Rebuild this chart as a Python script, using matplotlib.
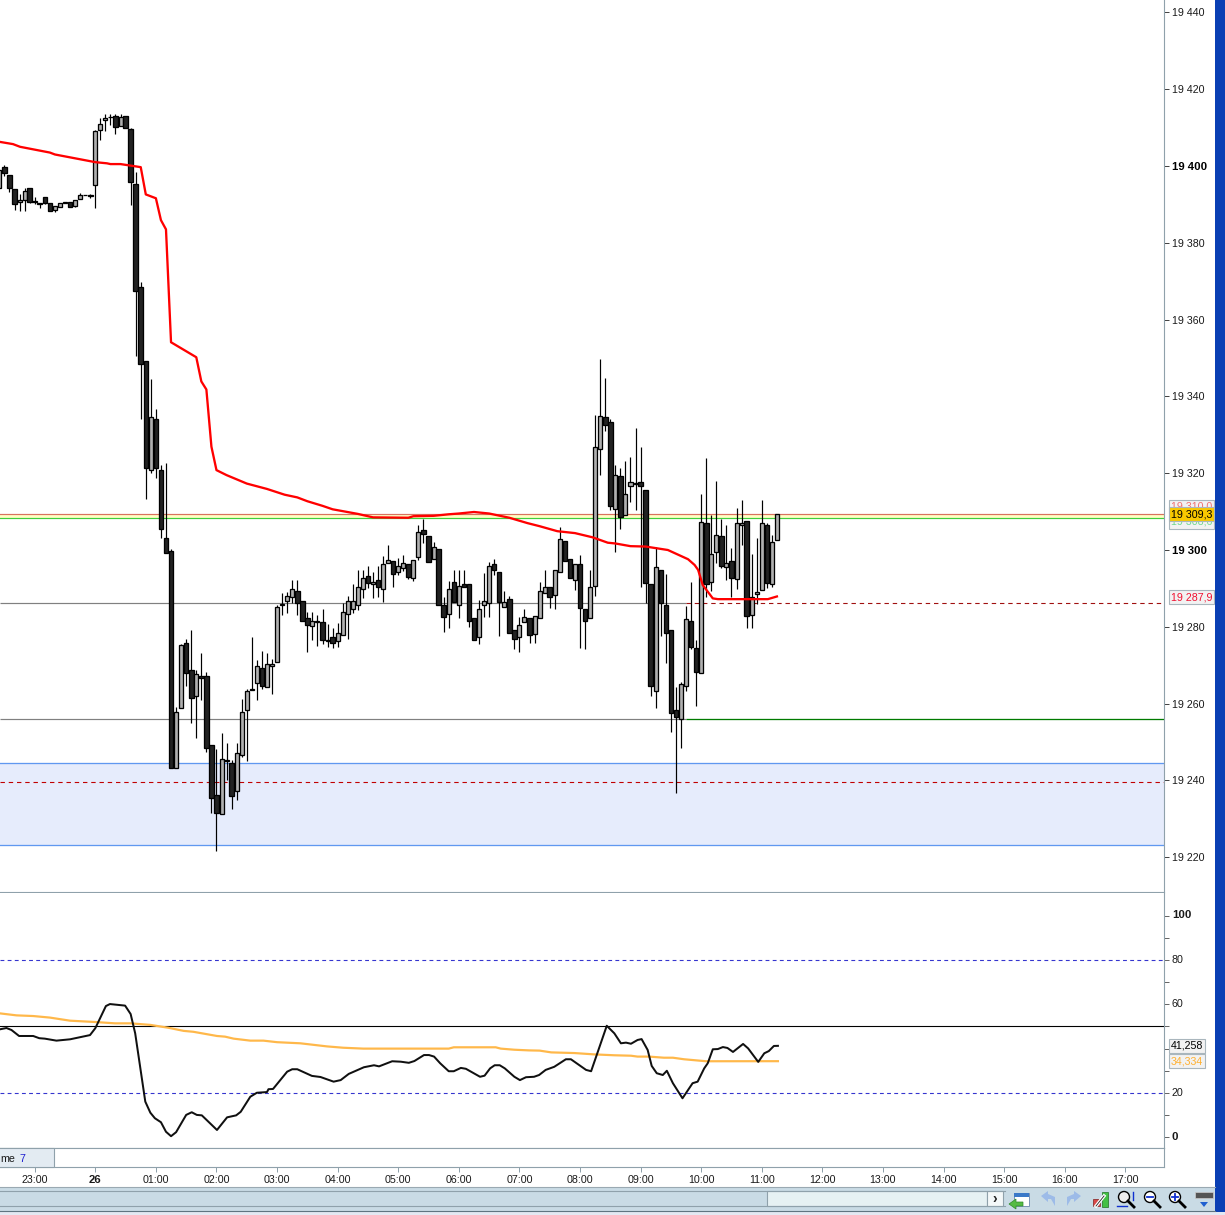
import matplotlib
matplotlib.use("Agg")
import matplotlib.pyplot as plt
from matplotlib.patches import Rectangle, Circle, Polygon
from matplotlib.ticker import FixedLocator, FixedFormatter, NullLocator
from matplotlib.transforms import ScaledTranslation

plt.rcParams['font.family'] = ['Liberation Sans', 'DejaVu Sans']

BASE = 19300  # all price lists below are offsets from this level
first_bar = -19  # 5-minute bars, 0 = 00:00 on the 26th

opens = [94.3,99.7,97.6,93.9,90.5,91.1,94.2,90.9,90.3,91.8,90.3,88.6,89.4,90.5,90.5,89.7,91.3,92.5,92.4,
 95.0,109.5,111.9,112.8,112.9,110.5,112.9,109.6,95.3,68.5,
 49.2,20.8,34.0,20.8,3.0,-0.3,-56.8,-41.2,-24.3,-31.3,
 -37.9,-32.8,-32.8,-50.9,-63.9,-68.8,-54.8,-55.5,-62.8,-53.3,
 -41.7,-36.2,-34.7,-30.8,-35.8,-30.3,-29.2,-14.4,-13.4,-12.3,
 -10.8,-13.4,-17.8,-19.9,-18.8,-18.8,-23.8,-22.7,-23.8,-22.1,
 -16.7,-15.4,-14.4,-10.2,-6.8,-8.9,-7.9,-10.2,-3.5,-2.9,
 -5.8,-4.8,-3.7,-7.4,-1.9,5.1,3.6,-2.4,0.2,-14.4,
 -16.7,-8.4,-14.4,-8.9,-8.9,-17.8,-22.7,-14.4,-13.9,-3.7,
 -5.8,-14.9,-12.8,-20.9,-22.7,-18.8,-17.8,-22.0,-17.8,-11.3,
 -9.7,-11.8,-5.8,2.3,-2.4,-7.9,-3.7,-15.4,-17.8,-9.4,
 26.3,34.6,33.3,10.6,19.2,9.0,16.6,17.1,17.6,15.6,
 -8.9,-36.8,-5.2,-14.3,-20.8,-41.7,-44.1,-35.5,-18.6,-25.6,
 -32.1,7.0,-8.4,-0.6,3.6,-4.5,-2.9,-7.6,6.4,7.5,
 -17.0,-11.5,-10.5,6.4,-8.9,2.5]
closes = [99.0,98.2,94.3,90.2,91.1,93.4,90.7,90.5,90.0,90.4,88.4,89.5,90.3,90.3,89.4,91.1,92.4,92.4,92.2,
 109.0,111.0,112.4,112.7,110.2,112.7,110.0,95.9,67.5,48.5,
 21.4,34.7,21.4,5.5,-0.7,-56.9,-42.3,-24.8,-32.0,-38.5,
 -32.4,-33.4,-51.5,-64.5,-68.4,-54.3,-54.9,-64.0,-52.9,-42.3,
 -36.8,-36.4,-30.3,-35.3,-29.8,-29.8,-14.9,-14.0,-11.9,-10.2,
 -13.7,-18.4,-19.5,-18.4,-18.4,-23.4,-23.4,-24.3,-21.5,-16.2,
 -13.4,-13.4,-9.7,-7.4,-8.5,-8.4,-9.7,-3.7,-2.5,-6.3,
 -4.2,-3.5,-7.0,-2.5,4.6,4.1,-3.0,0.7,-14.4,-17.4,
 -10.2,-13.5,-9.5,-9.6,-18.4,-23.4,-15.4,-13.4,-4.2,-5.3,
 -13.5,-13.5,-21.5,-23.3,-19.5,-17.4,-22.2,-17.3,-10.8,-9.6,
 -12.3,-5.3,2.8,-2.9,-7.4,-3.7,-15.0,-18.4,-9.6,26.7,
 35.0,32.6,11.5,19.6,8.7,14.7,17.6,17.5,16.6,-8.5,
 -35.3,-4.3,-13.9,-21.5,-42.4,-43.4,-35.0,-18.0,-25.2,-31.7,
 7.4,-8.9,-1.1,3.8,-4.1,-3.5,-7.2,7.0,7.0,-17.1,
 -12.2,-11.0,7.0,-8.5,2.0,9.3]
highs = [99.0,100.3,97.6,93.9,92.7,94.2,94.2,91.8,90.3,91.8,90.3,89.5,90.3,90.5,90.5,91.1,92.9,92.5,92.8,
 109.4,112.4,113.5,113.5,113.5,113.5,112.9,109.9,98.4,69.8,
 49.2,44.5,36.7,22.1,22.6,0.3,-40.8,-24.5,-23.3,-20.8,
 -31.2,-26.9,-31.8,-50.9,-51.8,-47.7,-50.3,-54.7,-50.3,-38.8,
 -36.2,-22.7,-28.6,-26.3,-26.9,-28.5,-14.3,-11.3,-10.9,-7.8,
 -7.8,-13.4,-16.1,-16.1,-16.9,-15.4,-19.3,-20.4,-19.0,-13.8,
 -12.0,-8.9,-5.2,-5.2,-4.1,-5.7,-4.1,-1.6,1.3,-2.9,
 -2.1,-1.3,-3.7,-2.5,6.5,8.1,3.6,2.2,0.2,-12.2,
 -8.0,-5.2,-5.2,-5.2,-8.9,-17.8,-13.0,-6.1,-3.0,-2.4,
 -5.8,-10.7,-12.0,-20.9,-17.4,-15.4,-17.8,-17.3,-8.4,-5.2,
 -9.7,-5.3,6.1,2.3,-2.4,-3.7,-1.3,-15.4,-5.2,35.2,
 49.7,44.7,34.0,22.1,21.3,23.2,24.1,31.7,26.7,15.6,
 -8.9,0.7,-5.2,-6.2,-20.8,-35.8,-34.5,-14.6,-8.3,-23.4,
 14.6,23.9,9.1,18.0,8.1,6.5,0.4,10.9,13.0,7.5,
 -1.0,3.0,13.0,7.0,3.9,9.3]
lows = [94.3,97.4,93.3,88.5,88.4,88.4,90.4,90.1,89.1,90.1,88.4,88.1,89.4,90.3,89.4,89.4,91.3,92.4,91.7,
 89.1,106.8,109.2,110.7,108.3,110.5,110.0,89.8,50.5,34.1,
 13.4,20.1,18.8,3.1,-0.7,-56.9,-56.8,-41.2,-35.3,-45.0,
 -48.9,-39.0,-52.5,-68.4,-78.3,-68.8,-59.9,-67.4,-65.1,-54.0,
 -54.9,-36.4,-39.0,-36.3,-35.8,-37.5,-29.2,-16.9,-16.5,-13.9,
 -16.9,-18.4,-26.5,-23.4,-25.0,-24.5,-25.2,-25.6,-25.3,-22.1,
 -23.3,-16.4,-15.6,-12.6,-10.0,-12.4,-12.2,-13.5,-3.5,-9.6,
 -6.5,-5.5,-7.6,-8.1,-2.6,1.7,-3.0,-2.4,-14.4,-21.4,
 -20.4,-13.5,-17.8,-9.6,-20.0,-23.4,-24.5,-17.4,-17.4,-6.5,
 -22.3,-14.9,-21.5,-25.8,-26.5,-18.8,-24.1,-24.3,-17.8,-11.3,
 -15.2,-15.4,-5.8,-2.9,-7.4,-10.4,-25.4,-25.9,-17.8,-11.9,
 19.5,31.1,10.4,-0.4,5.5,9.0,12.6,10.4,-9.6,-13.9,
 -37.9,-41.1,-22.3,-29.3,-47.3,-63.4,-51.6,-36.6,-25.7,-40.5,
 -32.1,-12.2,-10.6,-3.5,-4.6,-7.8,-12.2,-10.2,1.3,-20.2,
 -20.2,-14.1,-10.5,-10.0,-9.6,2.5]

vwap_bars = [-19,-16.3,-14.9,-9,-8,0,2.3,3,5,9,10,12,13,14,15,20,21,22,23,24,26,28,30,34,37.5,40,42,45,47,52,55,
 62,63,67,70,72,75,78,82,85.6,88,91.5,95,98.5,101.5,103,106,109,113.4,117.4,118.7,119.4,120.3,122.3,123.3,133.2,135]
vwap_vals = [106.3,105.7,105.0,103.5,103.0,101.0,100.7,100.5,100.5,99.7,92.6,91.6,85.9,83.5,54.1,50.2,43.9,41.8,26.9,20.8,19.5,18.4,17.3,15.9,14.4,13.7,12.7,11.5,10.6,9.4,8.5,
 8.4,8.8,8.9,9.3,9.5,9.9,9.5,8.4,7.0,6.2,4.9,4.4,3.3,1.9,1.7,1.0,0.9,0.0,-2.4,-3.9,-5.2,-9.1,-12.6,-12.8,-12.8,-12.1]

osc_bars = [-18.9,-17.6,-16.6,-15.1,-12.3,-11.1,-10,-7.7,-5,-1.05,0,2.1,2.9,5.9,7,7.9,9.9,10.9,11.8,13,14,15,16,18,19.1,20.1,21.1,24.1,26.1,27.9,28.8,30.7,32,34,34.3,35.2,38,39,40,42.9,44.6,47.2,48.6,50.2,53.2,55.2,56.2,58.8,60.5,
 62.1,63.2,65.1,66.1,67.1,68.3,70,71,72.4,73.4,76.2,77.1,78.2,79.1,80.1,81.1,83,84.1,85.3,86.9,87.9,89.2,90.9,93.2,94.2,97.2,98.2,99.2,101.3,102.8,104.1,105.1,106.1,107.4,108.2,109.4,110.2,111.2,112.4,113.2,114.4,116.3,118.3,119.3,120.6,121.3,122.3,123.3,124.3,125.2,126.3,128.3,129.3,131.3,132.5,133.4,134.4,135.2]
osc_vals = [48.7,49.3,48.4,45.7,45.7,44.7,44.5,43.6,44.2,46.1,49.2,59.2,60.1,59.4,55.6,46.9,16.1,11.1,8.6,6.8,2.5,0.5,2.3,10.1,11.3,10.1,9.9,3.3,9.0,9.9,11.5,18.3,20.1,20.4,21.7,21.8,29.6,30.7,30.7,27.7,27.2,25.1,25.8,28.6,31.6,32.5,32.0,34.3,34.1,
 33.6,34.4,37.1,37.1,36.4,33.4,29.8,29.8,31.3,30.9,27.3,27.8,31.1,32.5,32.5,31.1,27.3,25.8,27.1,27.3,28.1,30.4,31.8,35.2,35.2,30.4,29.8,36.4,50.3,46.9,42.4,42.7,42.2,43.9,44.3,39.4,32.2,28.9,28.1,30.0,24.4,17.6,24.4,25.1,31.1,33.4,39.7,39.8,40.7,40.3,38.5,42.1,40.1,34.0,37.9,38.9,41.2,41.258]
ma_bars = [-18.9,-15.6,-12.3,-9,-5,0,3.9,7,10.9,14.5,17.5,19.4,24.1,25.7,27.4,30.7,33.3,36,40.6,45.9,49.1,53.1,60.5,70,71,79.3,80.3,83,85.9,88,90.3,94.9,98.8,102.8,106.1,107.4,109.7,112.6,114.4,116.6,121,135.2]
ma_vals = [55.9,55.0,54.7,54.0,52.6,52.0,51.4,51.4,50.7,49.4,48.0,47.6,45.7,45.4,44.5,43.6,43.6,42.9,42.4,41.0,40.4,40.0,40.0,40.0,40.6,40.6,40.0,39.5,39.2,39.1,38.3,38.0,37.4,37.0,36.8,36.4,36.4,35.9,35.9,35.2,34.3,34.334]

level_red_top = 9.5
level_green = 8.3
level_mid = -13.9
level_low = -43.9
zone_top = -55.4
zone_bottom = -76.9
level_dash = -60.5
level_switch_bar = 117

price_ticks = list(range(19220, 19441, 20))
bold_prices = {19400, 19300}
osc_ticks = list(range(0, 101, 10))
osc_labels = {0: '0', 20: '20', 60: '60', 80: '80', 100: '100'}
hour_bars = list(range(-12, 205, 12))
hour_labels = ['23:00', '26', '01:00', '02:00', '03:00', '04:00', '05:00', '06:00', '07:00', '08:00', '09:00',
               '10:00', '11:00', '12:00', '13:00', '14:00', '15:00', '16:00', '17:00']

W, H = 1225, 1215
PX = 72 / 100
EDGE = '#8fa1ab'
TXT = '#1a1a1a'

fig = plt.figure(figsize=(W / 100, H / 100), dpi=100, facecolor='white')

def axes_px(x0, y0, x1, y1, **kw):
    return fig.add_axes([x0 / W, 1 - y1 / H, (x1 - x0) / W, (y1 - y0) / H], **kw)

XLIM = ((0 - 95.3) / 5.049, (1164 - 95.3) / 5.049)

# ---------- price pane
ax = axes_px(0, 0, 1164, 892)
ax.set_xlim(*XLIM)
ax.set_ylim(BASE - 342 / 3.84, BASE + 550 / 3.84)
for s in ('left', 'top'):
    ax.spines[s].set_visible(False)
ax.spines['right'].set_color(EDGE)
ax.spines['bottom'].set_color(EDGE)
ax.xaxis.set_major_locator(NullLocator())
ax.yaxis.tick_right()
ax.set_yticks(price_ticks)
ax.set_yticklabels([f"{p // 1000} {p % 1000:03d}" for p in price_ticks])
ax.tick_params(axis='y', length=5 * PX, width=1 * PX, pad=3 * PX, color='#444444', labelsize=7.7, labelcolor=TXT)
for lab, p in zip(ax.get_yticklabels(), price_ticks):
    if p in bold_prices:
        lab.set_fontweight('bold')
        lab.set_fontsize(8.2)
        lab.set_color('black')

ax.axhspan(BASE + zone_bottom, BASE + zone_top, facecolor='#e6ecfc', edgecolor='none', zorder=1)
ax.axhline(BASE + zone_top, color='#6098f0', lw=1 * PX * 1.3, zorder=1.5)
ax.axhline(BASE + zone_bottom, color='#6098f0', lw=1 * PX * 1.3, zorder=1.5)
ax.axhline(BASE + level_dash, color='#c00000', lw=1.1 * PX, ls=(0, (4, 3.5)), zorder=1.5)
ax.axhspan(BASE + level_green, BASE + level_red_top, facecolor='#ffffc4', edgecolor='none', zorder=1)
ax.axhline(BASE + level_red_top, color='#d8725f', lw=1.2 * PX, zorder=1.5)
ax.axhline(BASE + level_green, color='#3fce3f', lw=1.2 * PX, zorder=1.5)
ax.hlines(BASE + level_mid, XLIM[0], level_switch_bar, color='#808080', lw=1.2 * PX, zorder=1.5)
ax.hlines(BASE + level_mid, level_switch_bar, XLIM[1], color='#a01010', lw=1.1 * PX, ls=(0, (4, 3.5)), zorder=1.5)
ax.hlines(BASE + level_low, XLIM[0], level_switch_bar, color='#808080', lw=1.2 * PX, zorder=1.5)
ax.hlines(BASE + level_low, level_switch_bar, XLIM[1], color='#007a00', lw=1.3 * PX, zorder=1.5)

bars = list(range(first_bar, first_bar + len(opens)))
ax.vlines(bars, [BASE + v for v in lows], [BASE + v for v in highs], color='black', lw=1.2 * PX, zorder=3)
for b, o, c in zip(bars, opens, closes):
    up = c >= o
    lo, hi = min(o, c), max(o, c)
    ax.bar(b, hi - lo, bottom=BASE + lo, width=0.8 if up else 0.9,
           facecolor='#b0b0b0' if up else '#222222', edgecolor='black', linewidth=1.3 * PX, zorder=4)

ax.plot(vwap_bars, [BASE + v for v in vwap_vals], color='#ff0000', lw=2.3 * PX, zorder=5, solid_joinstyle='round')

def price_box(y, txt, col, fc='#f2f2f2', z=10):
    ax.text(1171 / 1164, y, txt, transform=ax.get_yaxis_transform(), color=col, fontsize=7.7, va='center', ha='left',
            zorder=z, clip_on=False,
            bbox=dict(boxstyle='square,pad=0.18', facecolor=fc, edgecolor='#a9b6bd', linewidth=1.1 * PX))

price_box(BASE + 10.0 + 1.2, '19 310,0', '#f07070')
price_box(BASE + 8.6 - 1.2, '19 308,6', '#70d890')
price_box(BASE + closes[-1], '19 309,3', 'black', fc='#f9c800', z=11)
price_box(BASE + vwap_vals[-1] - 0.2, '19 287,9', '#f01030')

# ---------- oscillator pane
ax2 = axes_px(0, 893, 1164, 1148)
ax2.set_xlim(*XLIM)
ax2.set_ylim((1137.3 - 1148) / 2.217, (1137.3 - 893) / 2.217)
for s in ('left', 'top'):
    ax2.spines[s].set_visible(False)
ax2.spines['right'].set_color(EDGE)
ax2.spines['bottom'].set_color(EDGE)
ax2.xaxis.set_major_locator(NullLocator())
ax2.yaxis.tick_right()
ax2.yaxis.set_major_locator(FixedLocator(osc_ticks))
ax2.yaxis.set_major_formatter(FixedFormatter([osc_labels.get(t, '') for t in osc_ticks]))
ax2.tick_params(axis='y', length=5 * PX, width=1 * PX, pad=3 * PX, color='#666666', labelsize=7.7, labelcolor=TXT)
lift = ScaledTranslation(0, 1.2 / 100, fig.dpi_scale_trans)
for lab, t in zip(ax2.get_yticklabels(), osc_ticks):
    lab.set_transform(lab.get_transform() + lift)
    if t in (0, 100):
        lab.set_fontweight('bold')
        lab.set_fontsize(8.2)
ax2.axhline(80, color='#3535cf', lw=1.1 * PX, ls=(0, (3.5, 3)), zorder=1)
ax2.axhline(20, color='#3535cf', lw=1.1 * PX, ls=(0, (3.5, 3)), zorder=1)
ax2.axhline(50, color='black', lw=1.1 * PX, zorder=1)
ax2.plot(ma_bars, ma_vals, color='#ffb84a', lw=2.2 * PX, zorder=2)
ax2.plot(osc_bars, osc_vals, color='#101010', lw=2.0 * PX, zorder=3)

def osc_box(y, txt, col):
    ax2.text(1171 / 1164, y, txt, transform=ax2.get_yaxis_transform(), color=col, fontsize=7.7, va='center', ha='left',
             zorder=10, clip_on=False,
             bbox=dict(boxstyle='square,pad=0.18', facecolor='#f2f2f2', edgecolor='#a9b6bd', linewidth=1.1 * PX))

osc_box(osc_vals[-1], '41,258', 'black')
osc_box(ma_vals[-1], '34,334', '#ffb030')

# ---------- time axis strip
ax3 = axes_px(0, 1148, 1164, 1167)
ax3.set_xlim(*XLIM)
ax3.set_ylim(0, 1)
ax3.spines['left'].set_visible(False)
ax3.spines['top'].set_color(EDGE)
ax3.spines['right'].set_color(EDGE)
ax3.spines['bottom'].set_color(EDGE)
ax3.yaxis.set_major_locator(NullLocator())
ax3.set_xticks(hour_bars)
ax3.set_xticklabels(hour_labels)
ax3.tick_params(axis='x', length=5 * PX, width=1 * PX, pad=3 * PX, color=EDGE, labelsize=7.7, labelcolor=TXT)
for lab, t in zip(ax3.get_xticklabels(), hour_labels):
    if t == '26':
        lab.set_fontweight('bold')
        lab.set_fontsize(8.2)

# ---------- window chrome (layout only)
ch = fig.add_axes([0, 0, 1, 1], facecolor='none', zorder=20)
ch.set_xlim(0, W)
ch.set_ylim(H, 0)
ch.axis('off')
ch.add_patch(Rectangle((-2, 1148), 56, 19, fc='#e3ebf2', ec=EDGE, lw=0.8))
ch.text(0, 1158.5, 'me', fontsize=7.7, color=TXT, va='center', ha='left')
ch.text(19, 1158.5, '7', fontsize=7.7, color='#2020d0', va='center', ha='left')
ch.add_patch(Rectangle((1215, 0), 10, 1215, fc='#0a3fb4', ec='none'))
ch.add_patch(Rectangle((0, 1186.5), 1215, 25, fc='#c9dbe5', ec='none'))
ch.add_patch(Rectangle((0, 1211.5), 1225, 4, fc='#e3e8f2', ec='none'))
for yy, c in ((1186.5, '#9aa9b2'), (1191, '#8fa1ab'), (1206.3, '#8fa1ab'), (1211, '#5f7480')):
    ch.plot([0, 1005 if yy in (1191, 1206.3) else 1215], [yy, yy], color=c, lw=0.8)
ch.add_patch(Rectangle((767, 1191), 220, 15.3, fc='#e6f1f3', ec='#8fa1ab', lw=0.8))
ch.add_patch(Rectangle((987, 1191), 16, 15.3, fc='#f4f8f9', ec='#8fa1ab', lw=0.8))
ch.text(995, 1198.5, '›', fontsize=10, fontweight='bold', ha='center', va='center', color='#222222')

# calendar icon
ch.add_patch(Rectangle((1014, 1193), 15, 13, fc='white', ec='#7a93b5', lw=0.7))
ch.add_patch(Rectangle((1014, 1193), 15, 4, fc='#3a78c8', ec='none'))
ch.add_patch(Polygon([(1009, 1204), (1016, 1199), (1016, 1202), (1023, 1202), (1023, 1206), (1016, 1206), (1016, 1209)],
                     fc='#55bb44', ec='#2f8a2a', lw=0.5))
# undo / redo arrows
ch.add_patch(Polygon([(1041, 1196), (1048, 1191), (1048, 1194), (1055, 1197), (1055, 1206), (1051, 1199), (1048, 1199), (1048, 1202)],
                     fc='#9dbbe8', ec='none'))
ch.add_patch(Polygon([(1081, 1196), (1074, 1191), (1074, 1194), (1067, 1197), (1067, 1206), (1071, 1199), (1074, 1199), (1074, 1202)],
                     fc='#9dbbe8', ec='none'))
# candle-wrench icon
ch.add_patch(Rectangle((1093, 1199), 7, 7, fc='#d84848', ec='#802020', lw=0.5))
ch.add_patch(Rectangle((1102, 1192), 6, 15, fc='#44c044', ec='#207020', lw=0.5))
ch.plot([1096, 1104], [1206, 1196], color='white', lw=2.4)
ch.plot([1096, 1104], [1206, 1196], color='#222222', lw=0.6)
# magnifiers
for cx, cy, sign in ((1124, 1197, 'fit'), (1150, 1197, '-'), (1175, 1197, '+')):
    ch.add_patch(Circle((cx, cy), 5.5, fc='#eeeeee' if sign == 'fit' else 'white', ec='black', lw=1.0))
    ch.plot([cx + 4, cx + 10], [cy + 4, cy + 10], color='black', lw=2.0)
    if sign != 'fit':
        ch.plot([cx - 3, cx + 3], [cy, cy], color='#1030d0', lw=1.3)
    if sign == '+':
        ch.plot([cx, cx], [cy - 3, cy + 3], color='#1030d0', lw=1.3)
ch.plot([1133, 1133], [1192, 1200], color='#1030d0', lw=1.0)
ch.plot([1117, 1127], [1206, 1206], color='#1030d0', lw=1.0)
# keyboard drop-down
ch.add_patch(Rectangle((1195, 1192), 18, 6, fc='#555555', ec='#cccccc', lw=0.5))
ch.add_patch(Polygon([(1200, 1202), (1208, 1202), (1204, 1207)], fc='#2060d0', ec='none'))

fig.savefig('out.png', dpi=100, facecolor='white')
